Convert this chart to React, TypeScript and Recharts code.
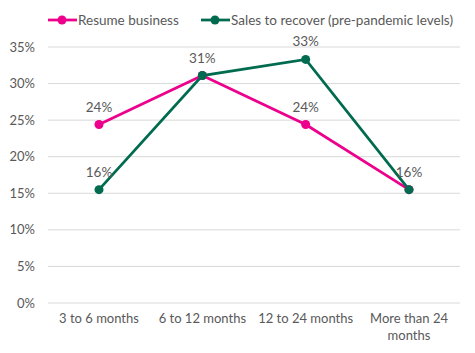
import { LineChart, Line, XAxis, YAxis, CartesianGrid, Legend, LabelList } from 'recharts';

const categories = ['3 to 6 months', '6 to 12 months', '12 to 24 months', 'More than 24 months'];
const resumeBusiness = [0.244, 0.311, 0.244, 0.155];
const salesRecover = [0.155, 0.311, 0.333, 0.155];
// Excel hides the overlapping pink labels
const resumeLabelShown = [true, false, true, false];
const yTicks = [0, 0.05, 0.1, 0.15, 0.2, 0.25, 0.3, 0.35];

const PINK = '#EC008C';
const GREEN = '#006B4F';
const TEXT = '#595959';
const FONT = 'Lato, "DejaVu Sans", sans-serif';

const data = categories.map((name, i) => ({
  name,
  resume: resumeBusiness[i],
  sales: salesRecover[i],
  showResume: resumeLabelShown[i],
}));

const pct = (v: number) => `${Math.round(v * 100)}%`;

const XTick = (props: any) => {
  const { x, y, payload } = props;
  const label: string = payload.value;
  const lines = label === 'More than 24 months' ? ['More than 24', 'months'] : [label];
  return (
    <text x={x} y={y} textAnchor="middle" fill={TEXT} fontSize={13} fontFamily={FONT}>
      {lines.map((l, i) => (
        <tspan key={i} x={x} dy={i === 0 ? 12 : 17}>
          {l}
        </tspan>
      ))}
    </text>
  );
};

const makeLabel = (series: 'resume' | 'sales') => (props: any) => {
  const { x, y, value, index } = props;
  if (series === 'resume' && !resumeLabelShown[index]) return null;
  return (
    <text x={x} y={y - 13} textAnchor="middle" fill={TEXT} fontSize={13.5} fontFamily={FONT}>
      {pct(value)}
    </text>
  );
};

const renderLegend = () => {
  const items = [
    { label: 'Resume business', color: PINK, width: 153 },
    { label: 'Sales to recover (pre-pandemic levels)', color: GREEN, width: 260 },
  ];
  return (
    <div style={{ display: 'flex', height: 22, alignItems: 'center', fontFamily: FONT, fontSize: 13.5, color: TEXT }}>
      {items.map((it) => (
        <div key={it.label} style={{ display: 'flex', alignItems: 'center', width: it.width }}>
          <svg width={29} height={12}>
            <line x1={0} y1={6} x2={29} y2={6} stroke={it.color} strokeWidth={2.75} />
            <circle cx={14} cy={6} r={4.5} fill={it.color} />
          </svg>
          <span style={{ marginLeft: 1 }}>{it.label}</span>
        </div>
      ))}
    </div>
  );
};

export default function App() {
  return (
    <div style={{ position: 'absolute', left: 0, top: 0, width: 475, height: 353, background: '#fff' }}>
      <LineChart width={475} height={353} data={data} margin={{ top: 15, right: 15, bottom: 0, left: 0 }}>
        <Legend verticalAlign="top" align="left" content={renderLegend} wrapperStyle={{ top: 9, left: 48 }} height={32} />
        <CartesianGrid vertical={false} stroke="#d9d9d9" />
        <XAxis
          dataKey="name"
          axisLine={false}
          tickLine={false}
          interval={0}
          padding={{ left: 51, right: 51 }}
          tick={<XTick />}
          height={50}
        />
        <YAxis
          domain={[0, 0.35]}
          ticks={yTicks}
          tickFormatter={pct}
          axisLine={false}
          tickLine={false}
          width={48}
          tickMargin={7}
          tick={{ fill: TEXT, fontSize: 13, fontFamily: FONT }}
        />
        <Line
          dataKey="resume"
          stroke={PINK}
          strokeWidth={2.75}
          dot={{ r: 4.5, fill: PINK, stroke: PINK, strokeWidth: 0 }}
          isAnimationActive={false}
        >
          <LabelList dataKey="resume" content={makeLabel('resume')} />
        </Line>
        <Line
          dataKey="sales"
          stroke={GREEN}
          strokeWidth={2.75}
          dot={{ r: 4.5, fill: GREEN, stroke: GREEN, strokeWidth: 0 }}
          isAnimationActive={false}
        >
          <LabelList dataKey="sales" content={makeLabel('sales')} />
        </Line>
      </LineChart>
    </div>
  );
}
